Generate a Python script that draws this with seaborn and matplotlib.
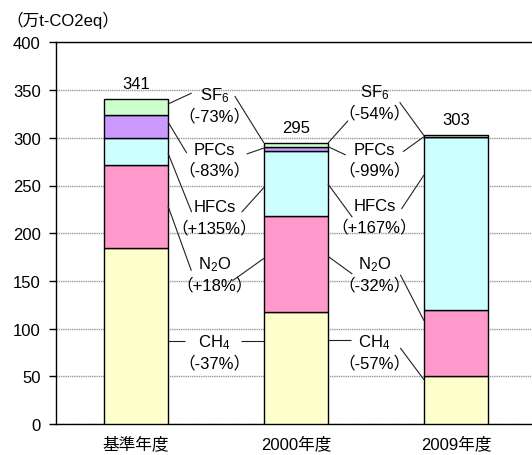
import matplotlib
matplotlib.use("Agg")
import matplotlib.pyplot as plt
import seaborn as sns
import numpy as np

categories = ['基準年度', '2000年度', '2009年度']
ch4 = [185, 117, 50]
n2o = [86, 101, 70]
hfcs = [29, 68, 181]
pfcs = [24, 4, 0.05]
sf6 = [17, 5, 2]
totals = [341, 295, 303]

gas_names = ['CH$_4$', 'N$_2$O', 'HFCs', 'PFCs', 'SF$_6$']
pct_2000 = ['-37%', '+18%', '+135%', '-83%', '-73%']
pct_2009 = ['-57%', '-32%', '+167%', '-99%', '-54%']
yticks = [0, 50, 100, 150, 200, 250, 300, 350, 400]
unit_label = '（万t-CO2eq）'

colors = ['#FFFFCC', '#FF99CC', '#CCFFFF', '#CC99FF', '#CCFFCC']

sns.set_style("white")
plt.rcParams['font.family'] = ['Liberation Sans', 'Noto Sans CJK JP', 'DejaVu Sans']
plt.rcParams['mathtext.fontset'] = 'custom'
plt.rcParams['mathtext.rm'] = 'Liberation Sans'
plt.rcParams['mathtext.it'] = 'Liberation Sans'
plt.rcParams['mathtext.default'] = 'regular'
plt.rcParams['text.color'] = 'black'
plt.rcParams['xtick.color'] = 'black'
plt.rcParams['ytick.color'] = 'black'
plt.rcParams['xtick.labelcolor'] = 'black'
plt.rcParams['ytick.labelcolor'] = 'black'

FS = 12
fig = plt.figure(figsize=(5.32, 4.56), dpi=100)
ax = fig.add_axes([56/532, 31/456, 480/532, 381.6/456])

layers = [ch4, n2o, hfcs, pfcs, sf6]
bottom = np.zeros(3)
for vals, col in zip(layers, colors):
    sns.barplot(x=categories, y=vals, bottom=bottom, color=col, width=0.4,
                edgecolor='black', linewidth=1.0, ax=ax, saturation=1, zorder=3)
    bottom = bottom + np.array(vals)

ax.set_xlim(-0.5, 2.5)
ax.set_ylim(0, 400)
ax.set_yticks(yticks)
ax.set_yticklabels([str(v) for v in yticks], fontsize=FS)
ax.set_xticks(range(3))
ax.set_xticklabels(categories, fontsize=FS)
ax.set_xticks([0.5, 1.5], minor=True)
ax.tick_params(axis='x', which='major', length=0, pad=8)
ax.tick_params(axis='x', which='minor', direction='in', length=5, width=1, color='black')
ax.tick_params(axis='y', which='major', direction='out', length=5, width=1, color='black', pad=6, left=True)
ax.set_xlabel('')
ax.set_ylabel('')
ax.yaxis.grid(True, color='#999999', linestyle=(0, (1, 0.6)), linewidth=1.0)
ax.xaxis.grid(False)
ax.set_axisbelow(True)
for s in ['top', 'left', 'bottom']:
    ax.spines[s].set_visible(True)
    ax.spines[s].set_color('black')
    ax.spines[s].set_linewidth(1.0)
ax.spines['right'].set_visible(False)

# totals
for i, t in enumerate(totals):
    ax.text(i, t + 16, str(t), ha='center', va='center', fontsize=FS, zorder=5)

# gas labels
name_y = {0: [86.3, 167.7, 227.5, 288, 345], 1: [86, 167.7, 229, 288, 348.5]}
for side, (xc, pcts) in enumerate([(0.49, pct_2000), (1.49, pct_2009)]):
    for k in range(5):
        yn = name_y[side][k]
        ax.text(xc, yn, gas_names[k], ha='center', va='center', fontsize=FS, zorder=5)
        ax.text(xc, yn - 21.5, '（' + pcts[k] + '）', ha='center', va='center',
                fontsize=FS, zorder=5)

# leader lines
leaders = [
    (0.2, 335.4, 0.348, 346.9), (0.2, 316.6, 0.317, 284), (0.2, 284, 0.348, 222),
    (0.2, 228.5, 0.346, 160.7), (0.2, 87.3, 0.304, 87.3),
    (0.617, 343.8, 0.8, 294.5), (0.692, 283, 0.8, 289.3), (0.66, 222, 0.8, 248),
    (0.603, 150.2, 0.8, 173.7), (0.659, 87.3, 0.8, 87.3),
    (1.2, 294.5, 1.325, 317.9), (1.2, 290.7, 1.311, 282), (1.2, 251.6, 1.352, 216.7),
    (1.2, 175.8, 1.352, 157.2), (1.2, 88.4, 1.346, 88.4),
    (1.648, 337.2, 1.8, 302.2), (1.669, 285.4, 1.8, 301.2), (1.659, 225.4, 1.8, 261),
    (1.652, 156.5, 1.8, 108.3), (1.652, 79.7, 1.8, 46.4),
]
for x0, y0, x1, y1 in leaders:
    ax.plot([x0, x1], [y0, y1], color='#222222', linewidth=0.8, zorder=4,
            solid_capstyle='butt')

fig.text(6/532, 1 - 20.7/456, unit_label, ha='left', va='center', fontsize=FS)

fig.savefig('out.png', dpi=100)
